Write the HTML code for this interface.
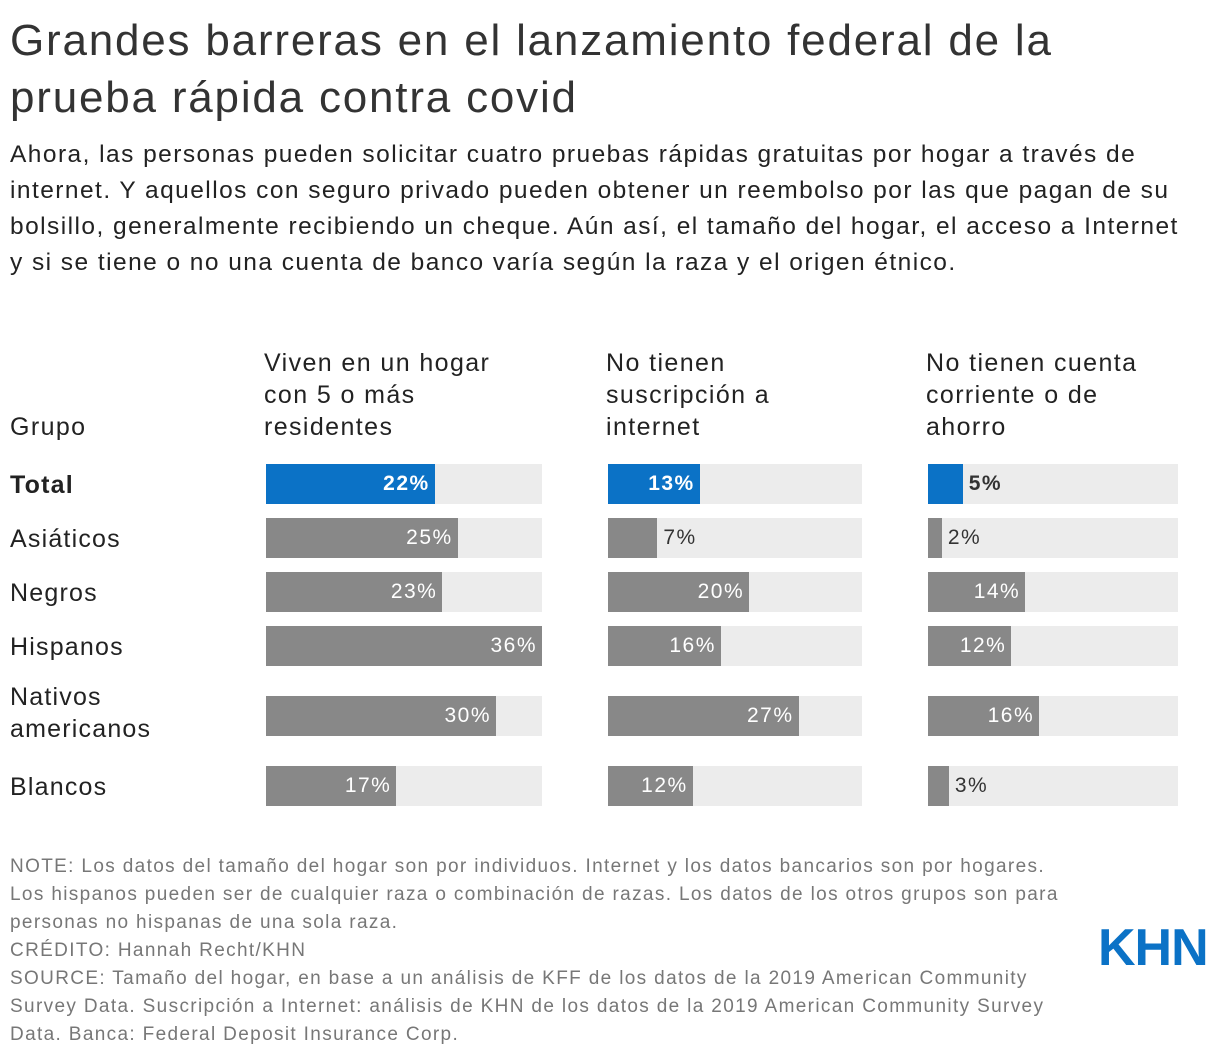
<!DOCTYPE html>
<html><head><meta charset="utf-8"><style>
body{margin:0;width:1220px;height:1060px;background:#fff;font-family:"Liberation Sans",Arial,sans-serif;color:#222;position:relative;overflow:hidden}
.a{position:absolute;margin:0;white-space:nowrap}
h1{position:absolute;left:10px;top:12px;margin:0;font-size:44px;font-weight:normal;line-height:57px;color:#333;letter-spacing:1.8px;white-space:nowrap}
.sub{left:10px;top:137px;font-size:24.5px;line-height:36px;color:#222;letter-spacing:1.45px}
.hd{font-size:25px;line-height:32px;color:#222;letter-spacing:1.4px}
.rl{left:10px;font-size:25px;line-height:32px;color:#222;letter-spacing:1.2px}
.note{left:10px;top:853px;font-size:19px;line-height:28px;color:#777;letter-spacing:1.35px}
.bg{position:absolute;background:#ececec;height:40px}
.bar{position:absolute;background:#888;height:40px}
.lbl{position:absolute;font-size:21px;line-height:40px;white-space:nowrap;letter-spacing:1.5px}
</style></head><body>
<h1>Grandes barreras en el lanzamiento federal de la<br>prueba rápida contra covid</h1>
<p class="a sub">Ahora, las personas pueden solicitar cuatro pruebas rápidas gratuitas por hogar a través de<br>internet. Y aquellos con seguro privado pueden obtener un reembolso por las que pagan de su<br>bolsillo, generalmente recibiendo un cheque. Aún así, el tamaño del hogar, el acceso a Internet<br>y si se tiene o no una cuenta de banco varía según la raza y el origen étnico.</p>
<div class="a hd" style="left:10px;top:411px">Grupo</div>
<div class="a hd" style="left:264px;top:347px">Viven en un hogar<br>con 5 o más<br>residentes</div>
<div class="a hd" style="left:606px;top:347px">No tienen<br>suscripción a<br>internet</div>
<div class="a hd" style="left:926px;top:347px">No tienen cuenta<br>corriente o de<br>ahorro</div>
<div id="chart"></div>
<div class="a note">NOTE: Los datos del tamaño del hogar son por individuos. Internet y los datos bancarios son por hogares.<br>Los hispanos pueden ser de cualquier raza o combinación de razas. Los datos de los otros grupos son para<br>personas no hispanas de una sola raza.<br>CRÉDITO: Hannah Recht/KHN<br>SOURCE: Tamaño del hogar, en base a un análisis de KFF de los datos de la 2019 American Community<br>Survey Data. Suscripción a Internet: análisis de KHN de los datos de la 2019 American Community Survey<br>Data. Banca: Federal Deposit Insurance Corp.</div>
<div class="a" style="left:1098px;top:918px;font-size:52px;font-weight:bold;color:#0b72c6;letter-spacing:-1px;line-height:60px">KHN</div>
<script>
const groups=["Total","Asiáticos","Negros","Hispanos","Nativos americanos","Blancos"];
const household=[22,25,23,36,30,17];
const internet=[13,7,20,16,27,12];
const bank=[5,2,14,12,16,3];
const series=[household,internet,bank];
const seriesNames=["household","internet","bank"];
const cols=[{x:266,w:276},{x:608,w:254},{x:928,w:250}];
const rowTops=[464,518,572,626,696,766];
const maxV=36;
const c=document.getElementById('chart');
groups.forEach((g,i)=>{
  const l=document.createElement('div');
  l.className='a rl';
  
  
  if(g==="Nativos americanos"){l.innerHTML="Nativos<br>americanos";l.style.top=(rowTops[i]-20+5)+'px';}
  else{l.textContent=g;l.style.top=(rowTops[i]+5)+'px';}
  if(i===0)l.style.fontWeight='bold';
  c.appendChild(l);
  series.forEach((s,j)=>{
    const col=cols[j],y=rowTops[i];
    const bg=document.createElement('div');bg.className='bg';
    
    
    bg.style.left=col.x+'px';bg.style.top=y+'px';bg.style.width=col.w+'px';c.appendChild(bg);
    const w=Math.min(col.w,s[i]/maxV*col.w);
    const b=document.createElement('div');b.className='bar';
    
    
    b.style.left=col.x+'px';b.style.top=y+'px';b.style.width=w+'px';
    if(i===0)b.style.background='#0b72c6';c.appendChild(b);
    const t=document.createElement('div');t.className='lbl';
    
    
    t.textContent=s[i]+'%';t.style.top=y+'px';
    if(i===0)t.style.fontWeight='bold';
    if(w>=60){t.style.color='#fff';t.style.right=(1220-col.x-w+5)+'px';}
    else{t.style.color='#333';t.style.left=(col.x+w+6)+'px';}
    c.appendChild(t);
  });
});
</script>
</body></html>
